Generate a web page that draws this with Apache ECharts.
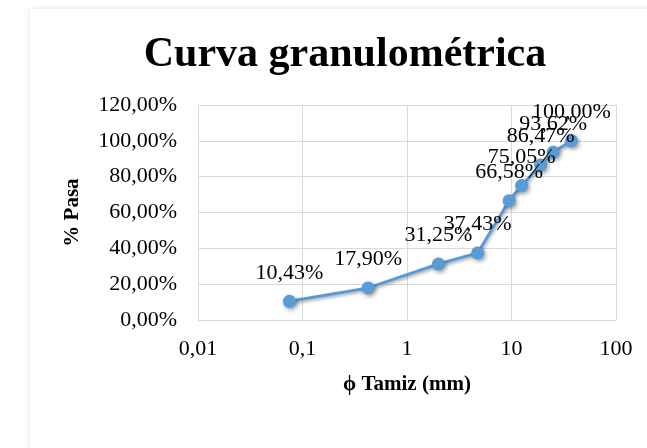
<!DOCTYPE html>
<html>
<head>
<meta charset="utf-8">
<style>
  html, body { margin: 0; padding: 0; background: #ffffff; }
  #chart { width: 647px; height: 448px; }
</style>
<script src="https://cdn.jsdelivr.net/npm/echarts@6/dist/echarts.min.js"></script>
</head>
<body>
<div id="chart"></div>
<script>
// Sieve openings (mm) and cumulative percent passing
const sieveSizes = [0.075, 0.425, 2.0, 4.75, 9.5, 12.5, 19.0, 25.0, 37.5];
const percentPassing = [10.43, 17.90, 31.25, 37.43, 66.58, 75.05, 86.47, 93.62, 100.00];
const xTicks = [0.01, 0.1, 1, 10, 100];

const serif = '"Liberation Serif", "DejaVu Serif", serif';
const blue = '#5B9BD5';

function comma(v, digits) {
  return (digits == null ? String(v) : v.toFixed(digits)).replace('.', ',');
}

const chart = echarts.init(document.getElementById('chart'), null, { renderer: 'canvas' });

chart.setOption({
  backgroundColor: '#ffffff',
  animation: false,
  graphic: [{
    type: 'rect',
    z: -10,
    shape: { x: 30, y: 9, width: 640, height: 460 },
    style: {
      fill: '#ffffff',
      shadowBlur: 6,
      shadowColor: 'rgba(0,0,0,0.12)',
      shadowOffsetX: 0,
      shadowOffsetY: 0
    }
  }],
  title: {
    text: 'Curva granulométrica',
    left: 340,
    textAlign: 'center',
    top: 29,
    textStyle: {
      fontFamily: serif,
      fontWeight: 'bold',
      fontSize: 42,
      color: '#000000'
    }
  },
  grid: { left: 198, right: 31, top: 105, bottom: 128, containLabel: false },
  xAxis: {
    type: 'log',
    logBase: 10,
    min: 0.01,
    max: 100,
    name: 'ϕ Tamiz (mm)',
    nameLocation: 'middle',
    nameGap: 54,
    nameTextStyle: { fontFamily: serif, fontWeight: 'bold', fontSize: 21, color: '#000' },
    axisLine: { show: true, lineStyle: { color: '#d9d9d9', width: 1 } },
    axisTick: { show: false },
    splitLine: { show: true, lineStyle: { color: '#d9d9d9', width: 1 } },
    minorSplitLine: { show: false },
    axisLabel: {
      fontFamily: serif, fontSize: 22, color: '#000', margin: 18,
      formatter: v => comma(Number(v.toPrecision(3)))
    }
  },
  yAxis: {
    type: 'value',
    min: 0,
    max: 120,
    interval: 20,
    name: '% Pasa',
    nameLocation: 'middle',
    nameGap: 115,
    nameRotate: 90,
    nameTextStyle: { fontFamily: serif, fontWeight: 'bold', fontSize: 21, color: '#000' },
    axisLine: { show: false },
    axisTick: { show: false },
    splitLine: { show: true, lineStyle: { color: '#d9d9d9', width: 1 } },
    axisLabel: {
      fontFamily: serif, fontSize: 22, color: '#000', margin: 21,
      formatter: v => comma(v, 2) + '%'
    }
  },
  series: [{
    type: 'line',
    data: sieveSizes.map((s, i) => [s, percentPassing[i]]),
    symbol: 'circle',
    symbolSize: 13,
    lineStyle: {
      color: blue, width: 3,
      shadowBlur: 3, shadowColor: 'rgba(0,0,0,0.3)', shadowOffsetX: 1, shadowOffsetY: 2
    },
    itemStyle: {
      color: blue,
      shadowBlur: 4, shadowColor: 'rgba(0,0,0,0.4)', shadowOffsetX: 1.5, shadowOffsetY: 2
    },
    label: {
      show: true,
      position: 'top',
      distance: 11,
      fontFamily: serif,
      fontSize: 22,
      color: '#000',
      formatter: p => comma(p.value[1], 2) + '%'
    },
    labelLayout: { hideOverlap: false }
  }]
});
</script>
</body>
</html>
